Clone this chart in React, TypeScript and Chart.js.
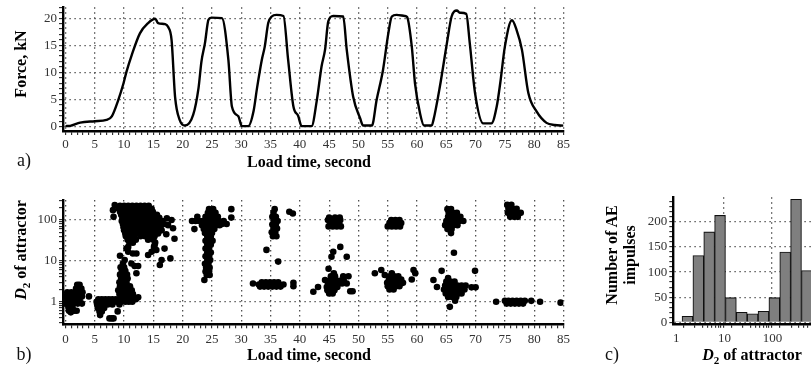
import React, { useEffect, useRef } from 'react';
import { Chart, registerables } from 'chart.js';

Chart.register(...registerables);

const FONT = "'Liberation Serif', 'Times New Roman', Times, serif";

// ---------- (a) Force vs load time ----------
const forceTime = [
  0, 0.8, 2.5, 5.0, 7.0, 7.9, 9.0, 9.9, 10.4, 11.3, 12.7, 14.1, 15.3, 15.8, 17.0, 17.5, 18.1, 18.7, 19.5, 20.4,
  21.8, 22.7, 23.2, 23.8, 24.4, 24.9, 26.7, 27.8, 28.4, 29.5, 30.1, 31.2,
  32.1, 32.7, 33.5, 34.0, 34.6, 35.2, 36.0, 37.2, 38.0, 38.9, 39.7, 40.3, 42.0,
  42.9, 43.7, 44.3, 44.85, 45.7, 47.4, 48.0, 49.1, 50.3, 50.8, 52.3,
  53.1, 54.2, 55.1, 55.7, 56.5, 57.9, 58.3, 59.1, 59.65, 60.5, 61.2, 62.5,
  62.8, 63.9, 65.1, 65.9, 66.8, 67.3, 68.4, 69.0, 69.9, 71.3, 72.7,
  73.6, 74.2, 75.0, 76.2, 77.0, 77.9, 79.0, 80.4, 82.1, 83.5, 85.0,
];
const forceKN = [
  0.1, 0.15, 0.75, 1.0, 1.25, 1.9, 4.9, 8.0, 10.1, 13.2, 17.2, 19.1, 19.9, 19.1, 18.9, 18.4, 16.0, 5.5, 1.2, 0.2,
  2.2, 7.1, 12.0, 15.4, 19.7, 20.1, 20.0, 12.3, 3.7, 1.9, 0.1, 0.1,
  2.9, 7.2, 12.3, 14.7, 19.1, 20.3, 20.6, 20.4, 12.3, 3.7, 2.0, 0.1, 0.1,
  4.9, 11.1, 14.2, 19.4, 20.4, 20.3, 14.2, 5.5, 1.5, 0.2, 0.2,
  4.9, 10.5, 17.2, 20.3, 20.6, 20.4, 20.2, 14.8, 8.0, 2.5, 0.2, 0.2,
  1.2, 7.4, 15.4, 20.3, 21.4, 21.0, 20.8, 15.4, 6.2, 0.6, 0.6,
  3.7, 8.0, 14.8, 19.6, 17.8, 14.2, 6.2, 2.8, 0.7, 0.3, 0.2,
];

// ---------- (b) D2 of attractor vs load time: rows of [D2, times[]] ----------
type Row = [number, number[]];
const cycle1: Row[] = [
  [0.9, [0, 0.7, 1.4, 2.1, 2.8]], [1.1, [0.3, 1.0, 1.7, 2.4]], [1.35, [0, 0.7, 1.4, 2.1, 2.8, 4.0]],
  [1.7, [0.3, 1.0, 1.7, 2.4, 2.9]], [2.1, [1.8, 2.3, 2.7]], [2.6, [2.0, 2.4]], [0.72, [0.5, 1.2]],
  [0.6, [0.6, 1.5, 1.9]], [0.55, [0.9]],
  [1.0, [5.3, 5.9, 6.5, 7.1, 7.7, 8.3, 8.9, 9.5, 10.2, 10.8, 11.4]],
  [1.15, [5.6, 6.2, 6.8, 7.4, 8.0, 8.6, 9.2, 12.0]], [0.86, [5.4, 6.0, 6.6, 7.2, 8.0, 9.2]],
  [0.7, [5.5, 6.1, 6.6]], [0.58, [5.8, 6.2, 8.9]], [0.47, [5.9]], [0.39, [7.5, 7.9, 8.2]],
  [1.28, [9.8, 10.4, 11.0, 11.6, 12.4]], [1.55, [9.2, 9.8, 10.4, 11.0, 11.5]],
  [1.9, [9.0, 9.6, 10.2, 10.8, 11.3]], [2.4, [9.3, 9.9, 10.5, 11.0]], [3.0, [9.2, 9.8, 10.4]],
  [3.7, [9.5, 10.1, 10.6]], [4.6, [9.3, 9.9, 10.5]], [5.0, [12.1]], [5.7, [9.6, 10.2]],
  [7.0, [9.4, 10.0]], [7.5, [11.8, 12.4]], [8.6, [9.8, 11.25]], [10.5, [10.1, 16.4]], [13.4, [9.3]],
  [15.2, [11.5, 12.1]], [16.7, [10.7, 14.7]], [20, [10.4, 16.9]], [13.9, [14.1]],
  [225, [9.3, 10.0, 10.7, 11.4, 12.1, 12.8, 13.5, 14.2]],
  [190, [9.1, 9.8, 10.5, 11.2, 11.9, 12.6, 13.3, 14.0, 14.7]],
  [160, [9.3, 10.0, 10.7, 11.4, 12.1, 12.8, 13.5, 14.2, 14.9]],
  [135, [9.5, 10.2, 10.9, 11.6, 12.3, 13.0, 13.7, 14.4, 15.1, 15.6]],
  [113, [9.7, 10.4, 11.1, 11.8, 12.5, 13.2, 13.9, 14.6, 15.3, 16.0]],
  [95, [9.6, 10.3, 11.0, 11.7, 12.4, 13.1, 13.8, 14.5, 15.2, 15.9, 16.5]],
  [80, [9.8, 10.5, 11.2, 11.9, 12.6, 13.3, 14.0, 14.7, 15.4, 16.1, 16.8]],
  [67, [9.9, 10.6, 11.3, 12.0, 12.7, 13.4, 14.1, 14.8, 15.5, 16.2]],
  [56, [10.0, 10.7, 11.4, 12.1, 12.8, 13.5, 14.2, 14.9, 15.6, 16.4]],
  [47, [10.2, 10.9, 11.6, 12.3, 13.0, 13.7, 14.4, 15.1, 15.8]],
  [40, [10.3, 11.0, 11.7, 12.8, 13.6, 14.3, 15.2]], [33, [10.6, 11.3, 12.0, 14.1, 15.0]],
  [28, [10.9, 11.5, 15.3]], [22, [10.7, 15.1]],
  [234, [8.4]], [175, [8.1]], [120, [8.2]], [100, [18.1]], [63, [18.35]], [35, [18.6]],
  [11.5, [17.9]], [7.9, [16.1]], [18.5, [15.5]], [24, [15.2]], [110, [17.3]], [75, [17.5]], [45, [17.2]],
];
const cycle2: Row[] = [
  [3.4, [23.7]], [4.5, [24.1, 24.6]], [5.5, [23.9, 24.5]], [6.8, [24.0, 24.6]], [8.5, [23.8, 24.4]],
  [10.5, [24.2, 24.7]], [13, [23.9, 24.5]], [16, [24.2, 24.8]], [20, [23.9, 24.5]], [25, [24.2, 24.8]],
  [31, [23.9, 24.5, 25.1]], [39, [24.2, 24.8]], [48, [23.8, 24.4, 25.0]],
  [60, [22.0, 23.6, 24.2, 24.8, 25.4]], [75, [23.3, 23.9, 24.5, 25.1, 25.7, 26.3]],
  [95, [21.6, 22.2, 22.8, 23.4, 24.1, 24.8, 25.5, 26.2, 27.0]], [120, [22.5, 23.9, 24.6, 25.3, 26.0]],
  [150, [24.3, 25.0, 25.6]], [185, [24.5, 25.2, 28.3]], [115, [28.3]], [80, [26.7, 27.5]],
];
const cycle3: Row[] = [
  [2.35, [33.2, 33.9, 34.6, 35.3, 36.0, 36.7]], [2.65, [33.0, 33.7, 34.4, 35.1, 35.8, 36.5, 37.2]],
  [3.0, [33.5, 34.2, 34.9, 35.6, 36.3]], [2.8, [32.0]], [2.4, [38.9]], [2.9, [38.9]],
  [9.6, [36.3]], [18.6, [34.3]], [40, [35.4, 36.0]], [50, [35.2, 35.8]], [62, [35.5, 36.1]],
  [78, [35.3, 35.9]], [95, [35.6, 36.2]], [120, [35.3, 35.9]], [150, [35.5]], [185, [35.7]],
  [160, [38.2]], [145, [38.8]],
];
const cycle4: Row[] = [
  [70, [44.9, 45.6, 46.3, 47.0]], [85, [45.2, 46.0, 46.7]], [100, [44.8, 45.5, 46.2, 46.9]],
  [115, [45.0, 46.0, 46.8]], [1.76, [42.3]], [2.3, [43.1, 44.6, 45.2, 45.8, 46.4]], [3.4, [44.3]],
  [1.6, [45.0, 45.6]], [1.9, [44.7, 45.3, 45.9]], [2.8, [44.8, 45.4, 46.0, 46.6, 47.2, 48.0]],
  [3.3, [45.1, 45.7, 46.3, 47.0, 47.5]], [4.2, [45.3, 46.0, 47.4, 48.3]], [5.0, [45.8]],
  [6.4, [44.9]], [12.6, [45.4, 48.0]], [16.7, [45.7]], [22, [46.9]], [1.8, [48.6, 49.0]],
];
const cycle5: Row[] = [
  [70, [55.0, 55.7, 56.4, 57.1]], [85, [55.3, 56.0, 56.7, 57.3]], [100, [55.6, 56.3, 57.0]],
  [5.0, [52.8, 55.7, 59.7]], [6.0, [53.9, 59.4]], [4.5, [54.5]], [2.0, [55.3, 56.0]],
  [2.4, [55.0, 55.7, 56.4, 57.0]], [2.9, [54.9, 55.6, 56.3, 57.0, 57.6]],
  [3.5, [55.2, 55.9, 56.6, 57.3, 59.1]], [4.2, [55.4, 56.1, 56.8]],
];
const cycle6: Row[] = [
  [48, [65.8]], [60, [65.2, 65.9]], [75, [64.8, 65.5, 66.2, 66.9]], [95, [65.0, 65.7, 66.4, 67.2, 67.9]],
  [120, [65.3, 66.0, 66.7, 67.4]], [150, [65.4, 66.1, 66.8]], [185, [65.2, 65.8]], [15.8, [66.3]],
  [5.7, [64.2, 69.9]], [3.4, [62.8]], [2.3, [63.4]], [1.3, [65.3, 66.0, 66.7]],
  [1.6, [64.9, 65.6, 66.3, 67.0, 67.6]], [2.0, [64.6, 65.3, 66.0, 66.7, 67.4, 68.1]],
  [2.5, [64.8, 65.5, 66.2, 66.9, 67.6, 68.3]], [3.1, [65.0, 65.7, 66.4]], [3.8, [65.3]],
  [0.75, [65.6]], [1.06, [66.5]], [2.25, [69.3, 70.0]],
];
const cycle7: Row[] = [
  [120, [75.9, 76.6, 77.2]], [150, [75.5, 76.2, 76.9, 77.7]], [190, [75.6, 76.3, 77.0]], [235, [75.4, 76.1]],
  [0.9, [75.3, 76.0, 76.7, 77.4, 78.1]], [1.05, [75.0, 75.6, 76.3, 77.0, 77.7, 78.4, 79.5]],
  [1.0, [73.5, 81.0]], [0.95, [84.5]],
];

// ---------- (c) histogram of D2 (bin centres in log10 D2) ----------
const histLogCenters = [0.0073, 0.2328, 0.4583, 0.6838, 0.9093, 1.1348, 1.3603, 1.5858, 1.8113, 2.0368, 2.2623, 2.4878, 2.7133];
const histCounts = [1, 12, 133, 180, 213, 49, 20, 17, 22, 49, 140, 245, 103];

// ---------- ticks ----------
const timeMajor = [0, 5, 10, 15, 20, 25, 30, 35, 40, 45, 50, 55, 60, 65, 70, 75, 80, 85];
const timeAll = Array.from({ length: 86 }, (_, i) => i);
const forceMajor = [0, 5, 10, 15, 20];
const forceAll = Array.from({ length: 23 }, (_, i) => i);
const d2Major = [1, 10, 100];
const d2All = [0.3, 0.4, 0.5, 0.6, 0.7, 0.8, 0.9, 1, 2, 3, 4, 5, 6, 7, 8, 9, 10, 20, 30, 40, 50, 60, 70, 80, 90, 100, 200, 300];
const countMajor = [0, 50, 100, 150, 200];
const countAll = Array.from({ length: 25 }, (_, i) => i * 10);
const histMajor = [0, 1, 2];
const histAll = [1, 2, 3, 4, 5, 6, 7, 8, 9, 10, 20, 30, 40, 50, 60, 70, 80, 90, 100, 200, 300, 400, 500, 600, 700, 800, 900].map(v => Math.log10(v));

const GRID = 'rgba(70,70,70,0.95)';
const DASH = [1.4, 3.6];
const isMajor = (majors: number[], v: number) => majors.some(m => Math.abs(m - v) < 1e-6);

function axis(p: {
  type: string; position: 'left' | 'bottom'; min: number; max: number; all: number[]; majors: number[];
  label: (v: number) => string; size: number; pad: number;
}) {
  return {
    type: p.type, position: p.position, min: p.min, max: p.max,
    afterBuildTicks: (s: any) => { s.ticks = p.all.map(v => ({ value: v })); },
    afterFit: (s: any) => { if (p.position === 'left') s.width = p.size; else s.height = p.size; },
    ticks: {
      autoSkip: false, maxRotation: 0, minRotation: 0, padding: p.pad, color: '#333',
      font: (c: any) => ({ family: FONT, size: c.tick && isMajor(p.majors, c.tick.value) ? 13 : 1 }),
      callback: (v: any) => (isMajor(p.majors, Number(v)) ? p.label(Number(v)) : ''),
    },
    grid: {
      color: (c: any) => (c.tick && isMajor(p.majors, c.tick.value) ? GRID : 'rgba(0,0,0,0)'),
      lineWidth: 1.3, tickColor: '#111', tickWidth: 1, tickLength: 4, drawTicks: true,
    },
    border: { display: true, color: '#000', width: 2.4, dash: DASH },
  };
}

const baseOptions = (padding: any) => ({
  responsive: true, maintainAspectRatio: false, animation: false as const, events: [] as any[],
  layout: { padding },
  plugins: { legend: { display: false }, tooltip: { enabled: false }, title: { display: false } },
});

export default function App() {
  const refA = useRef<HTMLCanvasElement>(null);
  const refB = useRef<HTMLCanvasElement>(null);
  const refC = useRef<HTMLCanvasElement>(null);

  useEffect(() => {
    const charts: Chart[] = [];
    const toPts = (rows: Row[]) => rows.flatMap(([d, ts]) => ts.map(t => ({ x: t, y: d })));

    charts.push(new Chart(refA.current!, {
      type: 'line',
      data: {
        datasets: [{
          data: forceTime.map((t, i) => ({ x: t, y: forceKN[i] })),
          borderColor: '#000', borderWidth: 2.4, pointRadius: 0, cubicInterpolationMode: 'monotone', fill: false,
        }],
      },
      options: {
        ...baseOptions({ left: 0, right: 16.5, top: 7.3, bottom: 29 }),
        scales: {
          x: axis({ type: 'linear', position: 'bottom', min: -0.43, max: 85, all: timeAll, majors: timeMajor, label: v => String(v), size: 20, pad: 2 }),
          y: axis({ type: 'linear', position: 'left', min: -0.8, max: 22, all: forceAll, majors: forceMajor, label: v => String(v), size: 63, pad: 2 }),
        },
      } as any,
    }));

    charts.push(new Chart(refB.current!, {
      type: 'scatter',
      data: {
        datasets: [{
          data: [cycle1, cycle2, cycle3, cycle4, cycle5, cycle6, cycle7].flatMap(toPts),
          backgroundColor: '#000', borderWidth: 0, pointRadius: 3.3, pointHoverRadius: 3.3,
        }],
      },
      options: {
        ...baseOptions({ left: 0, right: 16.5, top: 20, bottom: 20.7 }),
        scales: {
          x: axis({ type: 'linear', position: 'bottom', min: -0.43, max: 85, all: timeAll, majors: timeMajor, label: v => String(v), size: 20, pad: 3 }),
          y: axis({ type: 'logarithmic', position: 'left', min: 0.28, max: 310, all: d2All, majors: d2Major, label: v => String(v), size: 63, pad: 2 }),
        },
      } as any,
    }));

    charts.push(new Chart(refC.current!, {
      type: 'bar',
      data: {
        datasets: [{
          data: histLogCenters.map((x, i) => ({ x, y: histCounts[i] })),
          backgroundColor: '#7f7f7f', borderColor: '#111', borderWidth: 1.1,
          barThickness: 'flex', barPercentage: 1, categoryPercentage: 1,
        }],
      },
      options: {
        ...baseOptions({ left: 0, right: 6.7, top: 17.3, bottom: 21.2 }),
        scales: {
          x: axis({ type: 'linear', position: 'bottom', min: 0, max: 3.2, all: histAll, majors: histMajor, label: v => String(Math.round(Math.pow(10, v))), size: 20, pad: 3 }),
          y: axis({ type: 'linear', position: 'left', min: -3, max: 249, all: countAll, majors: countMajor, label: v => String(v), size: 73.3, pad: 2 }),
        },
      } as any,
    }));

    return () => charts.forEach(c => c.destroy());
  }, []);

  const title: React.CSSProperties = { position: 'absolute', fontFamily: FONT, fontWeight: 'bold', fontSize: 16, lineHeight: 1, whiteSpace: 'nowrap', color: '#000' };
  const panel: React.CSSProperties = { position: 'absolute', fontFamily: FONT, fontSize: 18, lineHeight: 1, color: '#111' };
  const center = (x: number, y: number, rot = false): React.CSSProperties => ({
    left: x, top: y, transform: `translate(-50%, -50%)${rot ? ' rotate(-90deg)' : ''}`,
  });
  const sub: React.CSSProperties = { fontSize: 11, position: 'relative', top: 4 };

  return (
    <div style={{ position: 'fixed', left: 0, top: 0, width: 811, height: 365, overflow: 'hidden', background: '#fff' }}>
      <div style={{ position: 'absolute', left: 0, top: 0, width: 580, height: 180 }}><canvas ref={refA} /></div>
      <div style={{ position: 'absolute', left: 0, top: 180, width: 580, height: 185 }}><canvas ref={refB} /></div>
      <div style={{ position: 'absolute', left: 600, top: 180, width: 240, height: 185 }}><canvas ref={refC} /></div>

      <div style={{ ...title, ...center(21, 64, true) }}>Force, kN</div>
      <div style={{ ...title, ...center(309, 162) }}>Load time, second</div>
      <div style={{ ...panel, ...center(24, 160) }}>a)</div>

      <div style={{ ...title, ...center(21, 250, true) }}><i>D</i><span style={sub}>2</span> of attractor</div>
      <div style={{ ...title, ...center(309, 355) }}>Load time, second</div>
      <div style={{ ...panel, ...center(24, 354) }}>b)</div>

      <div style={{ ...title, ...center(621, 255, true), textAlign: 'center', lineHeight: '18px' }}>Number of AE<br />impulses</div>
      <div style={{ ...title, ...center(752, 355) }}><i>D</i><span style={sub}>2</span> of attractor</div>
      <div style={{ ...panel, ...center(612, 354) }}>c)</div>
    </div>
  );
}
